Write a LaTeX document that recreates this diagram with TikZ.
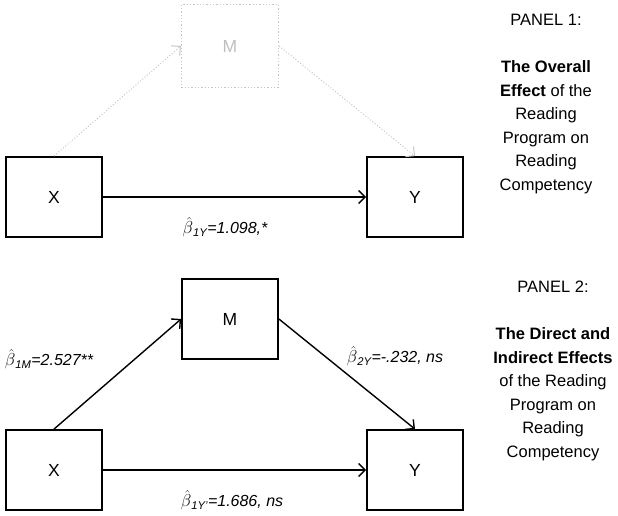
\documentclass[tikz,border=0pt]{standalone}
\usepackage{fontspec}
\setmainfont{Liberation Sans}
\usetikzlibrary{arrows.meta}
\newcommand\bhat[1]{{\fontsize{17.5}{18}\selectfont$\hat{\beta}$}\textsubscript{#1}}
\begin{document}
\begin{tikzpicture}[x=1pt,y=-1pt,
  box/.style={draw, line width=1.8pt, minimum width=96pt, minimum height=80pt, inner sep=0pt, font=\fontsize{17.5}{18}\selectfont},
  ghostbox/.style={draw=gray!45, dotted, line width=1.3pt, minimum width=97pt, minimum height=83pt, inner sep=0pt, text=gray!50, font=\fontsize{17.5}{18}\selectfont},
  conn/.style={line width=1.4pt, -{Straight Barb[length=6.5pt,width=13pt,line width=1.4pt]}},
  ghostconn/.style={draw=gray!45, dotted, line width=1pt, -{Straight Barb[length=6.5pt,width=13pt,line width=1pt]}},
  coef/.style={font=\fontsize{16}{18}\selectfont\itshape, inner sep=0pt},
  panel/.style={align=center, inner sep=0pt, font=\fontsize{16.5}{23.5}\selectfont}]
\useasboundingbox (0,0) rectangle (618,516);
% Panel 1
\node[ghostbox] (M1) at (230,46) {M};
\node[box] (X1) at (54,197) {X};
\node[box] (Y1) at (415,197) {Y};
\draw[conn] (X1) -- (Y1);
\draw[ghostconn] (X1.north) -- (M1.west);
\draw[ghostconn] (M1.east) -- (Y1.north);
\node[coef] (c1) at (225,227) {\bhat{1Y}=1.098,*};
\node[panel, anchor=north] (p1) at (546,14) {PANEL 1:\\[23.5pt]\textbf{The Overall}\\\textbf{Effect} of the\\Reading\\Program on\\Reading\\Competency};
% Panel 2
\node[box] (M2) at (230,319) {M};
\node[box] (X2) at (54,470) {X};
\node[box] (Y2) at (415,470) {Y};
\draw[conn] (X2) -- (Y2);
\draw[conn] (X2.north) -- (M2.west);
\draw[conn] (M2.east) -- (Y2.north);
\node[coef] (c2) at (49,359) {\bhat{1M}=2.527**};
\node[coef] (c3) at (395,356) {\bhat{2Y}=-.232, ns};
\node[coef] (c4) at (232,500) {\bhat{1Y'}=1.686, ns};
\node[panel, anchor=north] (p2) at (553,281) {PANEL 2:\\[23.5pt]\textbf{The Direct and}\\\textbf{Indirect Effects}\\of the Reading\\Program on\\Reading\\Competency};
\end{tikzpicture}
\end{document}
